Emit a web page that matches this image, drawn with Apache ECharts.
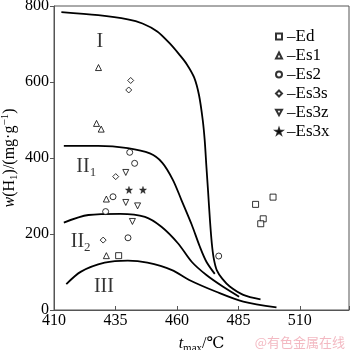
<!DOCTYPE html>
<html>
<head>
<meta charset="utf-8">
<script src="https://cdn.jsdelivr.net/npm/echarts@6/dist/echarts.min.js"></script>
<style>html,body{margin:0;padding:0;background:#fff;}#c{width:350px;height:350px;}</style>
</head>
<body>
<div id="c"></div>
<script>
// ---- data ----
const categories = ['Ed', 'Es1', 'Es2', 'Es3s', 'Es3z', 'Es3x'];
const edPts   = [[436.3, 143], [492, 278], [499.1, 297], [495.1, 240], [494.1, 227]];
const es1Pts  = [[428.1, 638], [427.3, 491], [429.2, 476], [431.3, 292], [431.3, 143]];
const es2Pts  = [[440.8, 415], [442.8, 386], [434, 298], [431, 259], [440.1, 190], [477, 142]];
const es3sPts = [[441.2, 604], [440.4, 579], [435.1, 351], [430, 184]];
const es3zPts = [[439.2, 362], [439.2, 283], [444, 274], [441.9, 233]];
const es3xPts = [[440.5, 316], [446.2, 316]];

const curveI   = [[413, 784], [428, 776], [440, 765], [446, 754], [452, 733], [457, 702], [461, 672], [464, 647], [467, 612], [469, 565], [470.5, 500], [471.3, 447], [472, 377], [472.7, 310], [473.4, 240], [474.2, 175], [475, 135], [476.2, 105], [478.5, 82], [481.5, 62], [487, 40], [494, 28]];
const curveII1 = [[414, 432], [428, 432], [440, 426], [449, 412], [454, 388], [458.4, 342], [461.8, 290], [466, 225], [469.3, 167], [472, 127], [475.4, 95]];
const curveII2 = [[414, 230], [424, 250], [437, 253], [447, 245], [453.7, 219], [460.5, 175], [466, 127], [472, 92], [478.8, 61], [485.3, 35]];
const curveIII = [[415, 68], [421, 101], [430.6, 124.5], [440, 130], [448, 124.5], [458, 105], [465, 79], [476, 48], [487, 22], [500.5, 7]];

const regionNames  = ['{m|I}', '{m|II}{s|1}', '{m|II}{s|2}', '{m|III}'];
const regionPoints = [[428.6, 706], [419.1, 377], [416.8, 180], [430.3, 62]];

const xTicks = [410, 435, 460, 485, 510];
const yTicks = [0, 200, 400, 600, 800];

// ---- chart ----
const serif = '"Liberation Serif", "DejaVu Serif", serif';
const hollow = { color: '#fff', borderColor: '#000', borderWidth: 1 };
const downTri = 'path://M0,0L10,0L5,9Z';
const star = 'path://M5,0L6.2,3.6L10,3.6L7,5.9L8.1,9.5L5,7.3L1.9,9.5L3,5.9L0,3.6L3.8,3.6Z';

function scatter(name, data, symbol, size, style) {
  return { name, type: 'scatter', data, symbol, symbolSize: size, itemStyle: style, z: 5 };
}
function curve(data) {
  return { type: 'line', data, showSymbol: false, symbol: 'none', smooth: 0.3,
           lineStyle: { color: '#000', width: 1.8 }, silent: true, z: 3 };
}

const subRich = {
  m: { fontFamily: serif, fontSize: 20, lineHeight: 24, color: '#000' },
  s: { fontFamily: serif, fontSize: 13, lineHeight: 13, verticalAlign: 'bottom', color: '#000' }
};

const chart = echarts.init(document.getElementById('c'), null, { renderer: 'canvas' });
chart.setOption({
  animation: false,
  backgroundColor: '#fff',
  grid: { left: 54, right: 1, top: 6, bottom: 40, containLabel: false, outerBoundsMode: 'none',
          show: true, borderColor: '#555', borderWidth: 1 },
  legend: {
    data: categories, orient: 'vertical', left: 270, top: 23, itemWidth: 6, itemHeight: 6, itemGap: 2,
    formatter: n => '\u2013' + n,
    textStyle: { fontFamily: serif, fontSize: 17, color: '#000' }
  },
  xAxis: {
    type: 'value', min: xTicks[0], max: 530, interval: 25,
    name: '{i|t}{s|max}/\u2103', nameLocation: 'middle', nameGap: 24, nameMoveOverlap: false,
    nameTextStyle: { fontFamily: serif, fontSize: 16, color: '#000', lineHeight: 20,
      rich: {
        i: { fontFamily: serif, fontStyle: 'italic', fontSize: 16, lineHeight: 20, color: '#000' },
        s: { fontFamily: serif, fontSize: 11, lineHeight: 11, verticalAlign: 'bottom', color: '#000' }
      } },
    axisLine: { lineStyle: { color: '#555', width: 1 } },
    axisTick: { inside: true, length: 4, lineStyle: { color: '#555' } },
    axisLabel: { margin: 3, fontFamily: serif, fontSize: 16, color: '#000',
      formatter: v => (xTicks.indexOf(v) >= 0 ? String(v) : '') },
    splitLine: { show: false }
  },
  yAxis: {
    type: 'value', min: yTicks[0], max: 800, interval: 200,
    name: '{i|w}(H{s|1})/(mg\u00b7g{p|\u22121})', nameLocation: 'middle', nameGap: 34, nameMoveOverlap: false,
    nameTextStyle: { fontFamily: serif, fontSize: 16, color: '#000', lineHeight: 20,
      rich: {
        i: { fontFamily: serif, fontStyle: 'italic', fontSize: 16, lineHeight: 20, color: '#000' },
        s: { fontFamily: serif, fontSize: 11, lineHeight: 11, verticalAlign: 'bottom', color: '#000' },
        p: { fontFamily: serif, fontSize: 11, lineHeight: 11, verticalAlign: 'top', color: '#000' }
      } },
    axisLine: { show: true, lineStyle: { color: '#555', width: 1 } },
    axisTick: { show: true, inside: false, length: 4, lineStyle: { color: '#555' } },
    axisLabel: { margin: 5, fontFamily: serif, fontSize: 16, color: '#000' },
    splitLine: { show: false }
  },
  series: [
    curve(curveI), curve(curveII1), curve(curveII2), curve(curveIII),
    scatter('Ed', edPts, 'rect', 6, hollow),
    scatter('Es1', es1Pts, 'triangle', 6, hollow),
    scatter('Es2', es2Pts, 'circle', 6, hollow),
    scatter('Es3s', es3sPts, 'diamond', 6, hollow),
    scatter('Es3z', es3zPts, downTri, 6, hollow),
    scatter('Es3x', es3xPts, star, 7, { color: '#000', borderColor: '#000', borderWidth: 0.5 }),
    {
      type: 'scatter', silent: true, symbolSize: 1, itemStyle: { color: 'rgba(0,0,0,0)' }, z: 4,
      data: regionPoints.map((p, i) => ({
        value: p,
        label: { show: true, position: 'inside', formatter: regionNames[i],
                 align: i === 1 || i === 2 ? 'left' : 'center', verticalAlign: 'middle', rich: subRich }
      }))
    }
  ],
  graphic: [{
    type: 'text', right: 5, bottom: 1, silent: true,
    style: { text: '@有色金属在线', fill: '#f3b9c2', font: '13px "Noto Sans CJK SC"' }
  }]
});
</script>
</body>
</html>
